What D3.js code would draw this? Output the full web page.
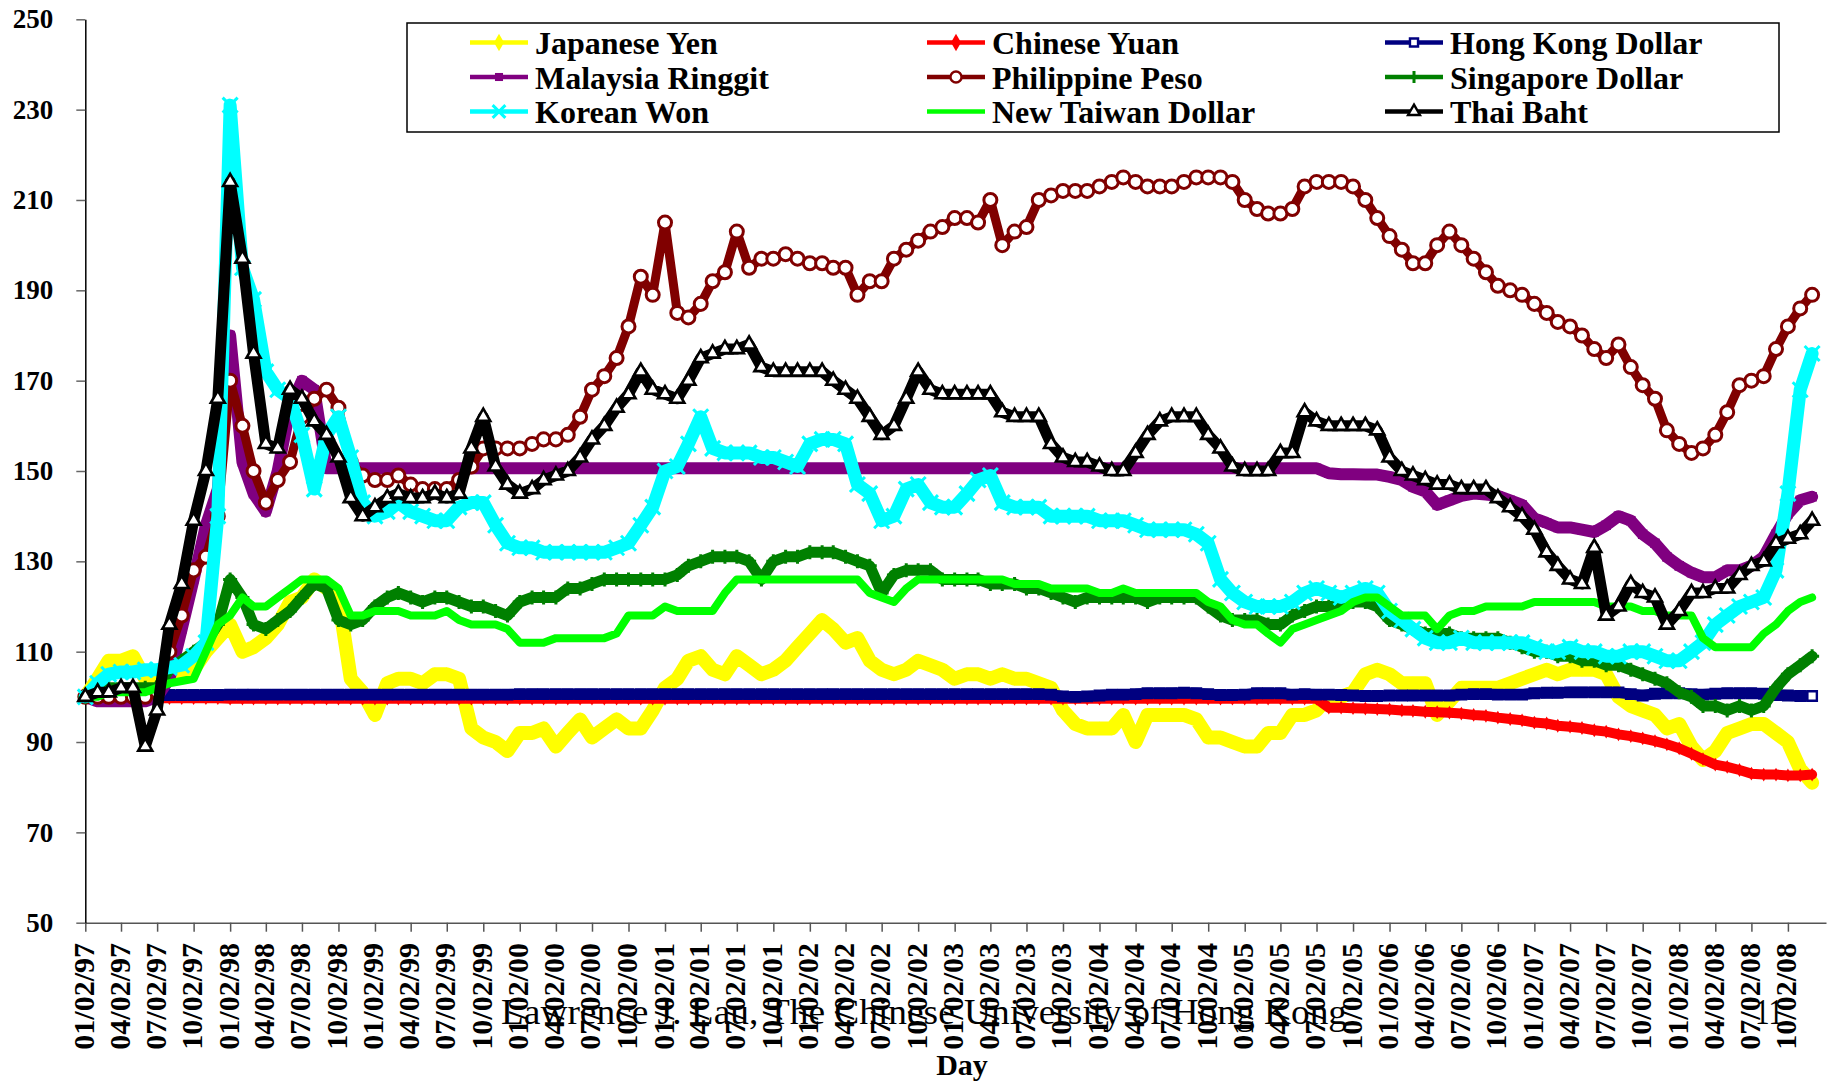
<!DOCTYPE html>
<html>
<head>
<meta charset="utf-8">
<script src="https://cdn.jsdelivr.net/npm/d3@7"></script>
<style>
body { margin: 0; background: #fff; }
svg { display: block; }
</style>
</head>
<body>
<svg id="chart" width="1828" height="1083"></svg>
<script>

var yTicks = [50, 70, 90, 110, 130, 150, 170, 190, 210, 230, 250];

var names = ['Japanese Yen', 'Chinese Yuan', 'Hong Kong Dollar',
             'Malaysia Ringgit', 'Philippine Peso', 'Singapore Dollar',
             'Korean Won', 'New Taiwan Dollar', 'Thai Baht'];

var yen = [
  100,104,108,108,109,104,105,106,105,106,110,113,
  116,110,111,113,116,121,122,126,124,122,104,101,
  96,103,104,104,103,105,105,104,93,91,90,88,
  92,92,93,89,92,95,91,93,95,93,93,97,
  102,104,108,109,106,105,109,107,105,106,108,111,
  114,117,115,112,113,108,106,105,106,108,107,106,
  104,105,105,104,105,104,104,103,102,97,94,93,
  93,93,96,90,96,96,96,96,95,91,91,90,
  89,89,92,92,96,96,97,100,100,101,105,106,
  105,103,103,103,96,99,102,102,102,102,103,104,
  105,106,105,106,106,106,105,100,98,97,96,93,
  94,89,86,88,92,93,94,94,92,90,84,81];

var yuan = [
  100,99.8,99.7,99.7,99.7,99.7,99.7,99.7,99.7,99.7,99.7,99.7,
  99.6,99.6,99.6,99.6,99.6,99.6,99.6,99.6,99.6,99.6,99.6,99.6,
  99.6,99.6,99.6,99.6,99.6,99.6,99.6,99.6,99.6,99.6,99.6,99.6,
  99.6,99.6,99.6,99.6,99.6,99.6,99.6,99.6,99.6,99.6,99.6,99.6,
  99.6,99.6,99.6,99.6,99.6,99.6,99.6,99.6,99.6,99.6,99.6,99.6,
  99.6,99.6,99.6,99.6,99.6,99.6,99.6,99.6,99.6,99.6,99.6,99.6,
  99.6,99.6,99.6,99.6,99.6,99.6,99.6,99.6,99.6,99.6,99.6,99.6,
  99.6,99.6,99.6,99.6,99.6,99.6,99.6,99.6,99.6,99.6,99.6,99.6,
  99.6,99.6,99.6,99.6,99.6,99.6,99.6,97.6,97.6,97.5,97.4,97.3,
  97.2,97.0,96.9,96.7,96.6,96.5,96.3,96.0,95.8,95.4,95.1,94.8,
  94.3,94.1,93.6,93.4,93.1,92.6,92.3,91.7,91.3,90.8,90.2,89.5,
  88.6,87.4,86.2,85.0,84.5,83.8,83.0,82.8,82.8,82.6,82.6,82.8];

var hkd = [
  100,100.2,100.3,100.3,100.3,100.3,100.3,100.4,100.4,100.4,100.4,100.4,
  100.5,100.5,100.5,100.5,100.5,100.5,100.5,100.5,100.5,100.5,100.5,100.5,
  100.5,100.5,100.5,100.5,100.5,100.5,100.5,100.5,100.5,100.5,100.5,100.5,
  100.6,100.6,100.6,100.6,100.6,100.6,100.6,100.6,100.6,100.6,100.6,100.6,
  100.6,100.6,100.6,100.6,100.6,100.6,100.6,100.6,100.6,100.6,100.6,100.6,
  100.6,100.6,100.6,100.6,100.6,100.6,100.6,100.6,100.6,100.6,100.6,100.6,
  100.6,100.6,100.6,100.6,100.6,100.6,100.6,100.6,100.5,100.1,100.0,100.1,
  100.3,100.5,100.5,100.6,100.8,100.8,100.8,100.9,100.8,100.6,100.4,100.4,
  100.5,100.8,100.8,100.8,100.5,100.6,100.5,100.5,100.4,100.3,100.2,100.2,
  100.3,100.3,100.3,100.3,100.3,100.3,100.5,100.6,100.6,100.5,100.5,100.5,
  100.8,100.9,100.9,101,101,101,101,101,100.6,100.3,100.7,100.8,
  100.8,100.6,100.5,100.7,100.8,100.8,100.8,100.7,100.4,100.3,100.2,100.2];

var ringgit = [
  100,99,99,99,99,99,100,104,115,126,138,146,
  180,152,145,141,150,164,170,168,150.6,150.6,150.6,150.6,
  150.6,150.6,150.6,150.6,150.6,150.6,150.6,150.6,150.6,150.6,150.6,150.6,
  150.6,150.6,150.6,150.6,150.6,150.6,150.6,150.6,150.6,150.6,150.6,150.6,
  150.6,150.6,150.6,150.6,150.6,150.6,150.6,150.6,150.6,150.6,150.6,150.6,
  150.6,150.6,150.6,150.6,150.6,150.6,150.6,150.6,150.6,150.6,150.6,150.6,
  150.6,150.6,150.6,150.6,150.6,150.6,150.6,150.6,150.6,150.6,150.6,150.6,
  150.6,150.6,150.6,150.6,150.6,150.6,150.6,150.6,150.6,150.6,150.6,150.6,
  150.6,150.6,150.6,150.6,150.6,150.6,150.6,149.5,149.3,149.3,149.2,149.2,
  148.7,148,146.5,145.5,142.5,143.5,144.5,145,144.8,144.5,143.5,142.5,
  139.5,138.5,137.5,137.5,137,136.5,138,140,139,136,134,131,
  129,127.5,126.5,126.5,128,128,129,131,136,140.5,143.5,144.3];

var peso = [
  100,100,100,100,100,100,101,110,118,128,131,140,
  170,160,150,143,148,152,162,166,168,164,152,149,
  148,148,149,147,146,146,146,148,151,155,155,155,
  155,156,157,157,158,162,168,171,175,182,193,189,
  205,185,184,187,192,194,203,195,197,197,198,197,
  196,196,195,195,189,192,192,197,199,201,203,204,
  206,206,205,210,200,203,204,210,211,212,212,212,
  213,214,215,214,213,213,213,214,215,215,215,214,
  210,208,207,207,208,213,214,214,214,213,210,206,
  202,199,196,196,200,203,200,197,194,191,190,189,
  187,185,183,182,180,177,175,178,173,169,166,159,
  156,154,155,158,163,169,170,171,177,182,186,189];

var sgd = [
  100,101,102,102,102,102,102,106,108,110,112,116,
  126,122,116,115,117,119,122,125,124,117,116,117,
  120,122,123,122,121,122,122,121,120,120,119,118,
  121,122,122,122,124,124,125,126,126,126,126,126,
  126,127,129,130,131,131,131,130,126,130,131,131,
  132,132,132,131,130,129,123,127,128,128,128,126,
  126,126,126,125,125,125,124,124,123,122,121,122,
  122,122,122,122,121,122,122,122,122,120,118,117,
  117,117,116,116,118,119,120,120,120,121,121,120,
  117,116,115,114,114,114,113,113,113,113,112,111,
  110,110,109,109,108,108,107,107,106,105,104,103,
  101,100,98,98,97,98,97,98,102,105,107,109];

var won = [
  100,103,105,105.5,105.5,106,106,106.5,107,109,112,140,
  231,195,188,172,168,166,158,146,158,162,153,143,
  140,141,143,141,140,139,139,142,143,143,138,134,
  133,133,132,132,132,132,132,132,133,134,138,142,
  150,151,156,162,155,154,154,154,153,153,152,151,
  156,157,157,156,147,145,139,140,146,147,143,142,
  142,145,148,149,143,142,142,142,140,140,140,140,
  139,139,139,138,137,137,137,137,136,134,126,123,
  121,120,120,120,121,123,124,123,122,123,124,123,
  119,117,115,113,112,112,113,112,112,112,112,112,
  111,110,110,111,110,110,109,109,110,110,109,108,
  108,110,112,116,118,120,121,122,128,145,168,176];

var twd = [
  100,100,101,101,101,101,102,103,103.5,104,110,116,
  118,122,120,120,122,124,126,126,126,124,118,118,
  119,119,119,118,118,118,119,117,116,116,116,115,
  112,112,112,113,113,113,113,113,114,118,118,118,
  120,119,119,119,119,123,126,126,126,126,126,126,
  126,126,126,126,126,123,122,121,124,126,126,126,
  126,126,126,126,126,125,125,125,124,124,124,124,
  123,123,124,123,123,123,123,123,123,121,120,117,
  116,116,114,112,115,116,117,118,119,121,122,122,
  120,118,118,118,115,118,119,119,120,120,120,120,
  121,121,121,121,121,121,120,120,120,119,119,118,
  118,118,113,111,111,111,111,114,116,119,121,122];

var baht = [
  100,101,101,102,102,89,97,116,125,139,150,166,
  214,197,176,156,155,168,166,161,158,153,144,140,
  142,144,145,144,144,145,144,145,155,162,151,147,
  145,146,148,149,150,153,157,160,164,167,172,168,
  167,166,170,175,176,177,177,178,173,172,172,172,
  172,172,170,168,166,162,158,160,166,172,168,167,
  167,167,167,167,163,162,162,162,156,153,152,152,
  151,150,150,154,158,161,162,162,162,158,155,151,
  150,150,150,154,154,163,161,160,160,160,160,159,
  153,150,149,148,147,147,146,146,146,144,142,140,
  137,132,129,126,125,133,118,120,125,123,122,116,
  119,123,123,124,124,127,129,130,134,135,136,139];

var dates = d3.range(yen.length).map(function(m) { return new Date(1997, m, 2); });
var quarterTicks = d3.range(0, 142, 3).map(function(m) { return new Date(1997, m, 2); });

var series = [
  {name: names[0], values: yen,     color: '#ffff00', width: 14, marker: 'diamond'},
  {name: names[1], values: yuan,    color: '#ff0000', width: 10, marker: 'diamond'},
  {name: names[2], values: hkd,     color: '#000080', width: 11, marker: 'square'},
  {name: names[3], values: ringgit, color: '#800080', width: 12, marker: 'square'},
  {name: names[4], values: peso,    color: '#800000', width: 9,  marker: 'circle'},
  {name: names[5], values: sgd,     color: '#008000', width: 11, marker: 'plus'},
  {name: names[6], values: won,     color: '#00ffff', width: 13, marker: 'times'},
  {name: names[7], values: twd,     color: '#00ff00', width: 8,  marker: null},
  {name: names[8], values: baht,    color: '#000000', width: 11, marker: 'triangle'}
];

var svg = d3.select('#chart');
var serif = "'Liberation Serif', 'Times New Roman', serif";

var x = d3.scaleTime()
  .domain([new Date(1997, 0, 2), new Date(2009, 0, 6)])
  .range([85.3, 1826]);
var y = d3.scaleLinear().domain([50, 250]).range([922.7, 19.3]);

// axes
var xAxis = svg.append('g')
  .attr('transform', 'translate(0,' + y(50) + ')')
  .call(d3.axisBottom(x).tickValues(quarterTicks)
    .tickFormat(d3.timeFormat('%m/%d/%y')).tickSize(9).tickSizeOuter(0));
xAxis.select('.domain').attr('stroke', '#555').attr('stroke-width', 1.5);
xAxis.selectAll('.tick line').attr('stroke', '#555').attr('stroke-width', 1.5);
xAxis.selectAll('.tick text')
  .attr('x', 0).attr('y', 0).attr('dy', null)
  .attr('transform', 'translate(8,20.3) rotate(-90)')
  .attr('text-anchor', 'end')
  .attr('fill', '#000')
  .style('font', 'bold 30px ' + serif);

var yAxis = svg.append('g')
  .attr('transform', 'translate(85.3,0)')
  .call(d3.axisLeft(y).tickValues(yTicks).tickSize(9).tickPadding(23).tickSizeOuter(0));
yAxis.select('.domain').attr('stroke', '#000').attr('stroke-width', 1.5);
yAxis.selectAll('.tick line').attr('stroke', '#666').attr('stroke-width', 1.5);
yAxis.selectAll('.tick text')
  .attr('fill', '#000')
  .style('font', 'bold 27px ' + serif);

// markers
function markerPath(type, scale) {
  scale = scale || 1;
  if (type == 'diamond') return d3.symbol(d3.symbolDiamond, 55 * scale * scale)();
  if (type == 'square') return d3.symbol(d3.symbolSquare, 90 * scale * scale)();
  if (type == 'circle') return d3.symbol(d3.symbolCircle, 133 * scale * scale)();
  if (type == 'triangle') return d3.symbol(d3.symbolTriangle, 85 * scale * scale)();
  var r;
  if (type == 'plus') { r = 7 * scale; return 'M' + (-r) + ',0H' + r + 'M0,' + (-r) + 'V' + r; }
  if (type == 'times') { r = 7.5 * scale; return 'M' + (-r) + ',' + (-r) + 'L' + r + ',' + r + 'M' + (-r) + ',' + r + 'L' + r + ',' + (-r); }
  return null;
}

function styleMarker(sel, s, last) {
  if (s.marker == 'plus' || s.marker == 'times') {
    sel.attr('fill', 'none').attr('stroke', s.color).attr('stroke-width', 3);
  } else if (s.marker == 'circle' || s.marker == 'triangle') {
    sel.attr('fill', '#fff').attr('stroke', s.color).attr('stroke-width', s.marker == 'circle' ? 3 : 2.6);
  } else if (s.marker == 'square' && s.name == names[2]) {
    sel.attr('fill', function(d, i) { return i == last ? '#fff' : s.color; })
      .attr('stroke', s.color).attr('stroke-width', 2.4);
  } else {
    sel.attr('fill', s.color).attr('stroke', 'none');
  }
}

var line = d3.line()
  .x(function(d, i) { return x(dates[i]); })
  .y(function(d) { return y(d); });

var plot = svg.append('g');
series.forEach(function(s) {
  var g = plot.append('g');
  g.append('path')
    .attr('d', line(s.values))
    .attr('fill', 'none')
    .attr('stroke', s.color)
    .attr('stroke-width', s.width)
    .attr('stroke-linejoin', 'round')
    .attr('stroke-linecap', 'round');
  if (s.marker) {
    var last = s.values.length - 1;
    var m = g.selectAll('path.mk')
      .data(s.values)
      .join('path')
      .attr('class', 'mk')
      .attr('d', markerPath(s.marker))
      .attr('transform', function(d, i) { return 'translate(' + x(dates[i]) + ',' + y(d) + ')'; });
    styleMarker(m, s, last);
  }
});

// legend
var legend = svg.append('g');
legend.append('rect')
  .attr('x', 407).attr('y', 23).attr('width', 1372).attr('height', 109)
  .attr('fill', '#fff').attr('stroke', '#000').attr('stroke-width', 1.5);

var colX = [535, 992, 1450];
var rowY = [54, 88.5, 123];

series.forEach(function(s, i) {
  var tx = colX[i % 3];
  var by = rowY[Math.floor(i / 3)];
  var ly = by - 11.5;
  legend.append('line')
    .attr('x1', tx - 65).attr('x2', tx - 7).attr('y1', ly).attr('y2', ly)
    .attr('stroke', s.color).attr('stroke-width', 4.5);
  if (s.marker) {
    var mk = legend.append('path')
      .datum(0)
      .attr('d', markerPath(s.marker, s.marker == 'diamond' ? 1.25 : 0.85))
      .attr('transform', 'translate(' + (tx - 36) + ',' + ly + ')');
    styleMarker(mk, s, 0);
    if (s.marker == 'circle' || s.marker == 'triangle') mk.attr('stroke-width', 2.4);
  }
  legend.append('text')
    .attr('x', tx).attr('y', by)
    .style('font', 'bold 32px ' + serif)
    .attr('fill', '#000')
    .text(s.name);
});

// footer texts
svg.append('text')
  .attr('x', 924).attr('y', 1024)
  .attr('text-anchor', 'middle')
  .attr('textLength', 846).attr('lengthAdjust', 'spacingAndGlyphs')
  .style('font', '36px ' + serif)
  .attr('fill', '#000')
  .text('Lawrence J. Lau, The Chinese University of Hong Kong');

svg.append('text')
  .attr('x', 1755).attr('y', 1024)
  .attr('textLength', 28).attr('lengthAdjust', 'spacingAndGlyphs')
  .style('font', '36px ' + serif)
  .attr('fill', '#000')
  .text('11');

svg.append('text')
  .attr('x', 962).attr('y', 1075)
  .attr('text-anchor', 'middle')
  .style('font', 'bold 30px ' + serif)
  .attr('fill', '#000')
  .text('Day');
</script>
</body>
</html>
